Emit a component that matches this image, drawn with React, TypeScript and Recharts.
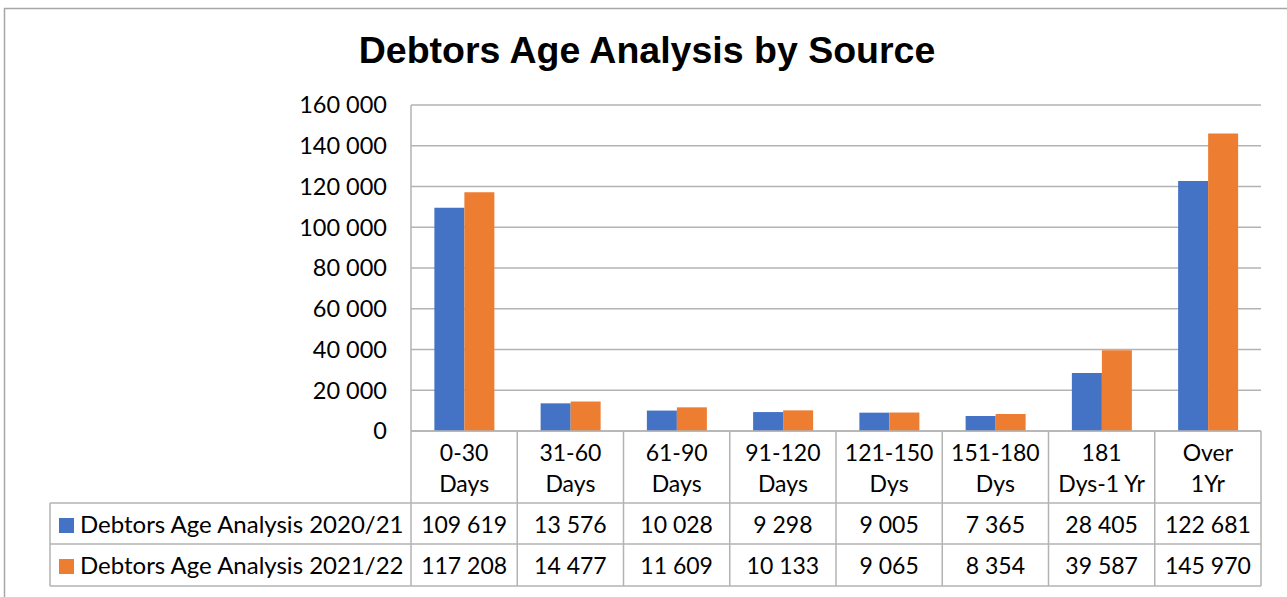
import React from "react"
import { BarChart, Bar, XAxis, YAxis, CartesianGrid } from "recharts"

const categories = [
  "0-30 Days",
  "31-60 Days",
  "61-90 Days",
  "91-120 Days",
  "121-150 Dys",
  "151-180 Dys",
  "181 Dys-1 Yr",
  "Over 1Yr",
]
const series2021 = [109619, 13576, 10028, 9298, 9005, 7365, 28405, 122681]
const series2022 = [117208, 14477, 11609, 10133, 9065, 8354, 39587, 145970]
const seriesNames = ["Debtors Age Analysis 2020/21", "Debtors Age Analysis 2021/22"]
const yTicks = [0, 20000, 40000, 60000, 80000, 100000, 120000, 140000, 160000]

const BLUE = "#4472C4"
const ORANGE = "#ED7D31"
const GRID = "#b3b3b3"
const FONT = "Lato, 'Open Sans', sans-serif"

// layout (pixels)
const W = 1287
const H = 597
const PLOT_LEFT = 411
const PLOT_RIGHT = 1261
const PLOT_TOP = 105
const PLOT_BOTTOM = 431
const HEADER_BOTTOM = 503
const ROW1_BOTTOM = 544
const ROW2_BOTTOM = 586
const TABLE_LEFT = 50
const Y_AXIS_W = 80

const fmt = (n: number) => String(n).replace(/\B(?=(\d{3})+(?!\d))/g, " ")

const data = categories.map((c, i) => ({
  category: c,
  a: series2021[i],
  b: series2022[i],
}))

function DataTable() {
  const colW = (PLOT_RIGHT - PLOT_LEFT) / categories.length
  const rows = [series2021, series2022]
  const rowBase = [533, 574]
  const rowTop = [HEADER_BOTTOM, ROW1_BOTTOM]
  const colors = [BLUE, ORANGE]
  return (
    <svg
      width={W}
      height={H}
      style={{ position: "absolute", left: 0, top: 0, pointerEvents: "none" }}
    >
      <rect x={4.5} y={8.5} width={W + 10} height={H + 10} fill="none" stroke="#a6a6a6" strokeWidth={1.5} />
      <text
        x={647}
        y={63}
        textAnchor="middle"
        fontFamily="'Liberation Sans', Arial, sans-serif"
        fontWeight="bold"
        fontSize={37.5}
        fill="#000"
      >
        Debtors Age Analysis by Source
      </text>

      {/* table grid */}
      <g stroke={GRID} strokeWidth={1.5} fill="none">
        <line x1={PLOT_LEFT} y1={PLOT_BOTTOM} x2={PLOT_RIGHT} y2={PLOT_BOTTOM} />
        <line x1={TABLE_LEFT} y1={HEADER_BOTTOM} x2={PLOT_RIGHT} y2={HEADER_BOTTOM} />
        <line x1={TABLE_LEFT} y1={ROW1_BOTTOM} x2={PLOT_RIGHT} y2={ROW1_BOTTOM} />
        <line x1={TABLE_LEFT} y1={ROW2_BOTTOM} x2={PLOT_RIGHT} y2={ROW2_BOTTOM} />
        <line x1={TABLE_LEFT} y1={HEADER_BOTTOM} x2={TABLE_LEFT} y2={ROW2_BOTTOM} />
        {categories.map((_, i) => (
          <line
            key={i}
            x1={PLOT_LEFT + colW * (i + 1)}
            y1={PLOT_BOTTOM}
            x2={PLOT_LEFT + colW * (i + 1)}
            y2={ROW2_BOTTOM}
          />
        ))}
        <line x1={PLOT_LEFT} y1={PLOT_TOP} x2={PLOT_LEFT} y2={ROW2_BOTTOM} />
      </g>

      <g fontFamily={FONT} fontSize={23} fill="#000" textAnchor="middle">
        {categories.map((c, i) => {
          const sp = c.indexOf(" ")
          const cx = PLOT_LEFT + colW * (i + 0.5)
          return (
            <g key={c}>
              <text x={cx} y={461}>{c.slice(0, sp)}</text>
              <text x={cx} y={492}>{c.slice(sp + 1)}</text>
            </g>
          )
        })}
        {rows.map((r, ri) =>
          r.map((v, i) => (
            <text key={ri + "-" + i} x={PLOT_LEFT + colW * (i + 0.5)} y={rowBase[ri]}>
              {fmt(v)}
            </text>
          ))
        )}
      </g>

      {seriesNames.map((name, ri) => (
        <g key={name}>
          <rect x={59} y={rowTop[ri] + 15} width={15} height={15} fill={colors[ri]} />
          <text x={80} y={rowBase[ri]} fontFamily={FONT} fontSize={24} fill="#000">
            {name}
          </text>
        </g>
      ))}
    </svg>
  )
}

export default function App() {
  return (
    <div style={{ position: "absolute", left: 0, top: 0, width: W, height: H, background: "#fff" }}>
      <BarChart
        width={W}
        height={H}
        data={data}
        margin={{ top: PLOT_TOP, right: W - PLOT_RIGHT, bottom: H - PLOT_BOTTOM, left: PLOT_LEFT - Y_AXIS_W }}
        barCategoryGap="22%"
        barGap={0}
      >
        <CartesianGrid vertical={false} stroke={GRID} strokeWidth={1.5} />
        <XAxis dataKey="category" hide />
        <YAxis
          width={Y_AXIS_W}
          domain={[0, 160000]}
          ticks={yTicks}
          interval={0}
          tickFormatter={fmt}
          axisLine={false}
          tickLine={false}
          tickMargin={18}
          tick={{ fill: "#000", fontSize: 23.5, fontFamily: FONT }}
        />
        <Bar dataKey="a" name={seriesNames[0]} fill={BLUE} isAnimationActive={false} />
        <Bar dataKey="b" name={seriesNames[1]} fill={ORANGE} isAnimationActive={false} />
      </BarChart>
      <DataTable />
    </div>
  )
}
